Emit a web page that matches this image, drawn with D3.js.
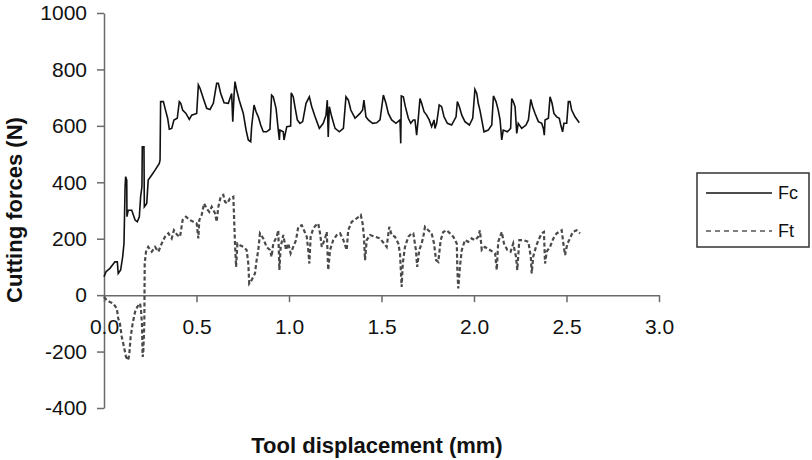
<!DOCTYPE html>
<html>
<head>
<meta charset="utf-8">
<script src="https://cdn.jsdelivr.net/npm/d3@7"></script>
<style>
  body { margin: 0; background: #fff; }
  svg { display: block; font-family: "Liberation Sans", Arial, sans-serif; }
</style>
</head>
<body>
<div id="chart"></div>
<script>
// tool displacement (mm) and cutting force Fc (N)
var fcX = [0.000,0.011,0.032,0.059,0.072,0.077,0.090,0.101,0.108,0.114,0.117,0.123,0.124,0.131,0.150,0.168,0.180,0.191,0.198,0.205,
  0.207,0.216,0.218,0.231,0.239,0.258,0.276,0.299,0.303,0.306,0.321,0.330,0.344,0.353,0.366,0.378,0.396,0.407,0.415,0.425,
  0.443,0.461,0.474,0.501,0.510,0.519,0.537,0.555,0.573,0.591,0.609,0.618,0.631,0.649,0.672,0.690,0.696,0.703,0.708,0.717,
  0.731,0.753,0.768,0.780,0.793,0.798,0.811,0.822,0.834,0.847,0.861,0.879,0.897,0.906,0.915,0.930,0.942,0.948,0.951,0.969,
  0.973,0.988,1.009,1.012,1.023,1.032,1.045,1.059,1.074,1.092,1.110,1.123,1.141,1.164,1.185,1.200,1.207,1.212,1.218,1.231,
  1.249,1.272,1.294,1.308,1.321,1.334,1.357,1.384,1.398,1.405,1.416,1.429,1.452,1.474,1.492,1.510,1.524,1.537,1.555,1.578,
  1.600,1.604,1.607,1.618,1.629,1.645,1.658,1.672,1.681,1.690,1.699,1.708,1.717,1.730,1.744,1.758,1.771,1.784,1.789,1.798,
  1.812,1.825,1.838,1.856,1.879,1.903,1.910,1.921,1.934,1.951,1.975,1.993,2.005,2.015,2.023,2.032,2.042,2.054,2.077,2.096,
  2.105,2.119,2.131,2.141,2.150,2.158,2.180,2.198,2.204,2.212,2.222,2.231,2.239,2.258,2.281,2.294,2.307,2.317,2.330,2.348,
  2.366,2.375,2.380,2.384,2.402,2.411,2.422,2.432,2.447,2.461,2.469,2.479,2.486,2.501,2.510,2.519,2.528,2.546,2.569];
var fcY = [65,83,95,118,118,77,89,136,183,384,420,408,278,301,301,266,260,278,349,384,
  526,526,313,325,408,426,443,467,479,686,686,662,627,588,591,621,627,686,680,656,
  644,623,638,644,745,733,697,662,658,680,751,751,715,682,680,715,615,709,757,727,
  691,644,585,550,544,597,674,650,632,603,579,579,588,709,703,662,585,550,585,579,
  550,597,599,717,703,668,621,609,615,680,703,668,632,591,609,638,691,561,668,632,
  591,579,591,703,691,656,627,644,656,691,632,621,609,611,621,709,680,644,621,609,
  621,538,706,703,668,627,609,621,621,567,627,697,680,650,638,621,597,621,591,609,
  674,668,632,609,603,632,686,668,638,615,603,627,729,715,680,656,621,579,585,603,
  706,686,656,621,550,585,579,591,697,686,668,573,609,591,603,621,694,668,644,615,
  609,591,567,621,627,703,680,644,632,627,603,579,609,609,686,686,656,632,611];

// thrust force Ft (N)
var ftX = [0.000,0.015,0.032,0.050,0.069,0.077,0.086,0.096,0.108,0.119,0.131,0.137,0.144,0.155,0.168,0.180,0.195,0.200,0.205,0.209,
  0.212,0.218,0.220,0.227,0.239,0.258,0.276,0.294,0.312,0.330,0.348,0.366,0.378,0.396,0.411,0.425,0.443,0.465,0.483,0.501,
  0.510,0.515,0.528,0.541,0.555,0.569,0.582,0.600,0.609,0.618,0.631,0.645,0.654,0.666,0.681,0.699,0.703,0.708,0.714,0.721,
  0.735,0.753,0.771,0.780,0.785,0.798,0.816,0.825,0.834,0.843,0.861,0.879,0.897,0.906,0.915,0.934,0.942,0.948,0.955,0.969,
  0.984,0.996,1.009,1.023,1.038,1.050,1.069,1.081,1.096,1.104,1.110,1.117,1.131,1.146,1.158,1.168,1.177,1.195,1.204,1.212,
  1.222,1.239,1.258,1.276,1.294,1.312,1.320,1.339,1.366,1.388,1.398,1.405,1.411,1.420,1.438,1.465,1.492,1.514,1.528,1.542,
  1.555,1.573,1.591,1.600,1.609,1.615,1.627,1.645,1.663,1.672,1.686,1.693,1.704,1.717,1.726,1.735,1.753,1.771,1.784,1.795,
  1.807,1.820,1.834,1.852,1.870,1.888,1.907,1.910,1.915,1.924,1.934,1.951,1.969,1.987,2.005,2.023,2.032,2.042,2.059,2.086,
  2.114,2.123,2.131,2.150,2.162,2.180,2.198,2.212,2.227,2.234,2.245,2.266,2.294,2.307,2.312,2.320,2.335,2.348,2.366,2.378,
  2.384,2.393,2.411,2.429,2.447,2.474,2.483,2.492,2.505,2.519,2.534,2.555,2.573];
var ftY = [-6,-18,-24,-29,-47,-83,-100,-148,-183,-219,-230,-207,-148,-100,-59,-41,-29,-53,-100,-219,
  -207,-100,112,154,171,154,171,154,183,207,219,201,230,213,207,266,278,266,260,254,
  201,266,284,325,307,295,313,290,260,313,349,355,331,325,343,349,278,183,100,183,
  177,171,160,112,41,53,77,124,160,219,201,171,160,136,183,207,230,89,171,213,
  160,183,148,171,195,242,248,230,207,160,112,207,236,248,254,219,171,201,224,89,
  160,195,213,219,195,160,230,260,272,284,254,207,124,195,213,207,201,183,171,242,
  213,207,183,148,29,112,171,207,219,219,160,100,160,183,207,242,230,219,183,124,
  118,195,224,230,219,207,183,89,24,100,160,195,189,201,195,207,230,160,171,160,
  148,89,189,224,183,160,154,183,136,89,195,195,189,136,77,136,171,195,219,224,
  112,154,171,201,219,230,183,142,183,201,224,230,219];

var xTicks = [0, 0.5, 1.0, 1.5, 2.0, 2.5, 3.0];
var yTicks = [-400, -200, 0, 200, 400, 600, 800, 1000];
var seriesNames = ["Fc", "Ft"];

var width = 812, height = 460;

var x = d3.scaleLinear().domain([0, 3]).range([104, 659]);
var y = d3.scaleLinear().domain([-400, 1000]).range([408, 13]);

var svg = d3.select("#chart").append("svg")
    .attr("width", width)
    .attr("height", height);

// y axis
var yAxis = svg.append("g")
    .attr("transform", "translate(" + x(0) + ",0)")
    .call(d3.axisLeft(y).tickValues(yTicks).tickSize(7).tickSizeOuter(0).tickPadding(10)
        .tickFormat(function(d) { return String(d); }));

// x axis sits on the zero line
var xAxis = svg.append("g")
    .attr("transform", "translate(0," + y(0) + ")")
    .call(d3.axisBottom(x).tickValues(xTicks).tickSize(7).tickSizeOuter(0).tickPadding(17)
        .tickFormat(function(d) { return d.toFixed(1); }));

[yAxis, xAxis].forEach(function(g) {
    g.select(".domain").attr("stroke", "#6a6a6a").attr("stroke-width", 1.5);
    g.selectAll(".tick line").attr("stroke", "#6a6a6a").attr("stroke-width", 1.5);
    g.selectAll(".tick text").attr("fill", "#111").style("font-size", "21px");
});

var fcData = fcX.map(function(d, i) { return [d, fcY[i]]; });
var ftData = ftX.map(function(d, i) { return [d, ftY[i]]; });

var line = d3.line()
    .x(function(d) { return x(d[0]); })
    .y(function(d) { return y(d[1]); });

svg.append("path")
    .datum(ftData)
    .attr("fill", "none")
    .attr("stroke", "#4a4a4a")
    .attr("stroke-width", 2.2)
    .attr("stroke-dasharray", "4,2.5")
    .attr("d", line);

svg.append("path")
    .datum(fcData)
    .attr("fill", "none")
    .attr("stroke", "#111")
    .attr("stroke-width", 1.6)
    .attr("d", line);

// axis titles
svg.append("text")
    .attr("transform", "translate(22,210) rotate(-90)")
    .attr("text-anchor", "middle")
    .style("font-size", "22px")
    .style("font-weight", "bold")
    .attr("fill", "#111")
    .text("Cutting forces (N)");

svg.append("text")
    .attr("x", 377)
    .attr("y", 453)
    .attr("text-anchor", "middle")
    .style("font-size", "22px")
    .style("font-weight", "bold")
    .attr("fill", "#111")
    .text("Tool displacement (mm)");

// legend
var legend = svg.append("g");
legend.append("rect")
    .attr("x", 697).attr("y", 173)
    .attr("width", 112).attr("height", 74)
    .attr("fill", "#fff")
    .attr("stroke", "#333")
    .attr("stroke-width", 1.5);

seriesNames.forEach(function(name, i) {
    var ly = 193 + i * 38;
    legend.append("line")
        .attr("x1", 706).attr("x2", 772)
        .attr("y1", ly).attr("y2", ly)
        .attr("stroke", i == 0 ? "#111" : "#555")
        .attr("stroke-width", i == 0 ? 1.6 : 1.5)
        .attr("stroke-dasharray", i == 0 ? null : "5,4");
    legend.append("text")
        .attr("x", 778).attr("y", ly + 6)
        .style("font-size", "18px")
        .attr("fill", "#111")
        .text(name);
});
</script>
</body>
</html>
